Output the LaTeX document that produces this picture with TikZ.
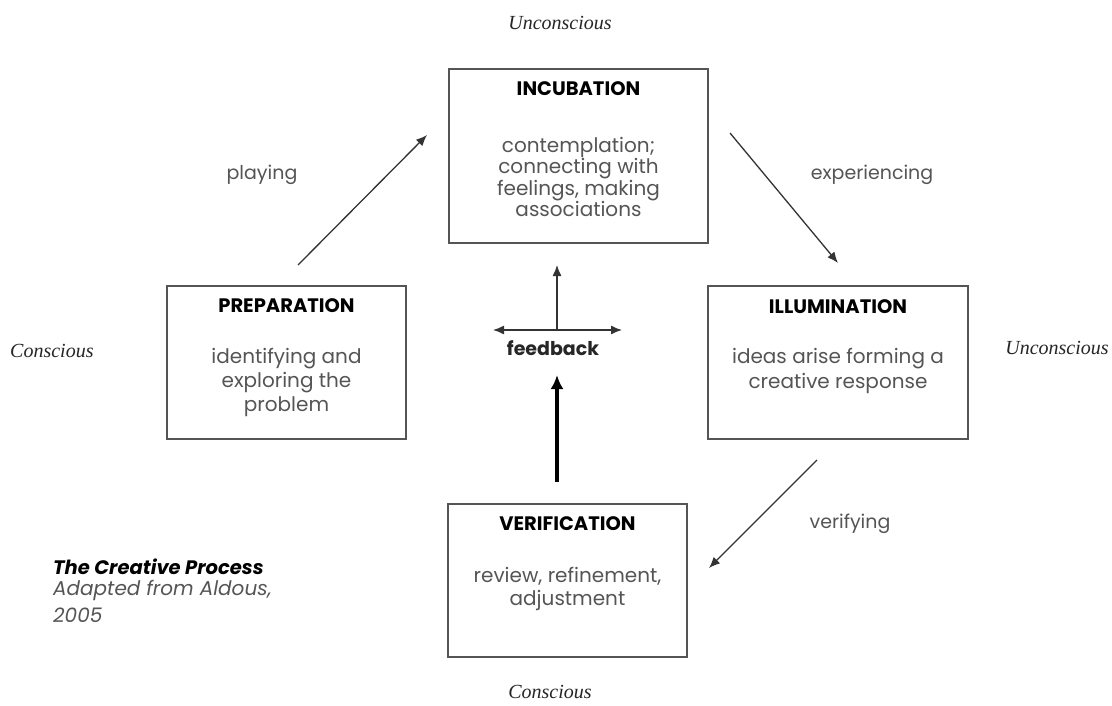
\documentclass[tikz,border=0pt]{standalone}
\usepackage{fontspec}
\setmainfont{Poppins}
\newfontfamily\lserif{Liberation Serif}
\usetikzlibrary{arrows.meta}
\definecolor{boxgray}{HTML}{555555}
\definecolor{txtgray}{HTML}{555555}
\begin{document}
\begin{tikzpicture}[x=1pt,y=-1pt,
  stagebox/.style={draw=boxgray,line width=1.8pt,inner sep=0pt},
  titletext/.style={font=\fontsize{19.5}{22}\selectfont\bfseries,text=black,inner sep=0pt},
  bodytext/.style={font=\fontsize{20}{23}\selectfont,text=txtgray,align=center,inner sep=0pt},
  steplabel/.style={font=\fontsize{19}{22}\selectfont,text=txtgray,inner sep=0pt},
  statelabel/.style={font=\fontsize{20}{22}\selectfont\lserif\itshape,text=black!85,inner sep=0pt},
  thinarrow/.style={draw=black!80,line width=1.3pt,-{Latex[length=11pt,width=9pt]}},
  thickarrow/.style={draw=black,line width=4pt,-{Latex[length=14pt,width=13pt]}},
]
\useasboundingbox (0,0) rectangle (1112,706);
\fill[white] (0,0) rectangle (1112,706);

% boxes
\node[stagebox,minimum width=259pt,minimum height=174pt] (inc) at (578.5,156) {};
\node[stagebox,minimum width=239pt,minimum height=153pt] (prep) at (286.5,362.5) {};
\node[stagebox,minimum width=260pt,minimum height=153pt] (ill) at (838,362.5) {};
\node[stagebox,minimum width=239pt,minimum height=153pt] (ver) at (567.5,580.5) {};

% titles
\node[titletext] (inct) at (578.5,89) {INCUBATION};
\node[titletext] (prept) at (286.5,306) {PREPARATION};
\node[titletext] (illt) at (838,307) {ILLUMINATION};
\node[titletext] (vert) at (567.5,524) {VERIFICATION};

% bodies
\node[bodytext,font=\fontsize{20}{21.5}\selectfont] (incb) at (578.5,177) {contemplation;\\connecting with\\feelings, making\\associations};
\node[bodytext,font=\fontsize{20}{24}\selectfont] (prepb) at (286.5,382) {identifying and\\exploring the\\problem};
\node[bodytext,font=\fontsize{20}{25}\selectfont] (illb) at (838,371) {ideas arise forming a\\creative response};
\node[bodytext] (verb) at (567.5,589) {review, refinement,\\adjustment};

% state labels
\node[statelabel] (uctop) at (560,23) {Unconscious};
\node[statelabel] (ucright) at (1057,348) {Unconscious};
\node[statelabel,anchor=west] (cleft) at (10,351) {Conscious};
\node[statelabel] (cbottom) at (550,692) {Conscious};

% step labels
\node[steplabel] (playl) at (262,175) {playing};
\node[steplabel] (expl) at (872,175) {experiencing};
\node[steplabel] (verl) at (850,524) {verifying};

% arrows
\coordinate (playa) at (298,265);
\coordinate (playb) at (427,135);
\coordinate (expa) at (730,133);
\coordinate (expb) at (838,263);
\coordinate (vera) at (817,460);
\coordinate (verb2) at (709,568);
\draw[thinarrow] (playa) -- (playb);
\draw[thinarrow] (expa) -- (expb);
\draw[thinarrow] (vera) -- (verb2);

% feedback
\coordinate (fbcenter) at (557,330);
\coordinate (fbup) at (557,265);
\coordinate (fbleft) at (493,330);
\coordinate (fbright) at (622,330);
\coordinate (thicka) at (557,482);
\coordinate (thickb) at (557,375);
\draw[thinarrow] (fbcenter) -- (fbup);
\draw[draw=black!80,line width=1.3pt,{Latex[length=11pt,width=9pt]}-{Latex[length=11pt,width=9pt]}] (fbleft) -- (fbright);
\node[font=\fontsize{19}{21}\selectfont\bfseries,text=black!85,inner sep=0pt] (fbl) at (553,348) {feedback};
\draw[thickarrow] (thicka) -- (thickb);

% caption
\node[anchor=west,font=\fontsize{19.5}{22}\selectfont\bfseries\itshape,text=black,inner sep=0pt] (capt) at (53,567) {The Creative Process};
\node[anchor=west,font=\fontsize{20}{22}\selectfont\itshape,text=txtgray,inner sep=0pt] (capa) at (53,590) {Adapted from Aldous,};
\node[anchor=west,font=\fontsize{20}{22}\selectfont\itshape,text=txtgray,inner sep=0pt] (capb) at (53,615) {2005};
\end{tikzpicture}
\end{document}
